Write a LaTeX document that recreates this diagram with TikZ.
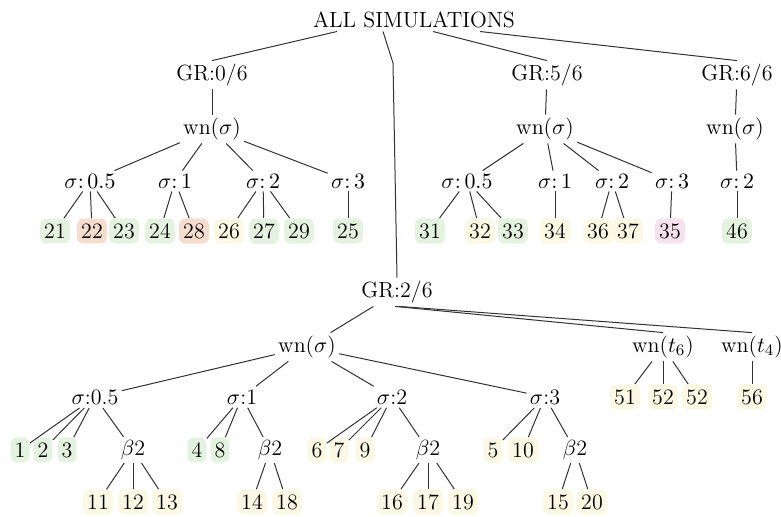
\documentclass[tikz,border=0pt]{standalone}
\usetikzlibrary{calc}
\definecolor{gbg}{RGB}{228,242,224}
\definecolor{obg}{RGB}{245,220,204}
\definecolor{ybg}{RGB}{251,249,228}
\definecolor{pbg}{RGB}{246,226,236}
\definecolor{edgec}{RGB}{50,50,50}
\begin{document}
\begin{tikzpicture}[x=0.5pt,y=-0.5pt,
  font=\fontsize{11}{13}\selectfont,
  lbl/.style={inner sep=1.5pt},
  leaf/.style={inner xsep=2pt, inner ysep=2.5pt, rounded corners=3pt},
  lg/.style={leaf, fill=gbg},
  lo/.style={leaf, fill=obg},
  ly/.style={leaf, fill=ybg},
  lp/.style={leaf, fill=pbg},
  edge/.style={draw=edgec, line width=0.5pt}]
\useasboundingbox (0,0) rectangle (781,516);

% ---------- root ----------
\node[lbl] (all) at (414,20) {ALL SIMULATIONS};
\coordinate (bend) at (393,63);

% ---------- GR:0/6 ----------
\node[lbl] (g0) at (212,75) {GR:0/6};
\node[lbl] (w0) at (212,129) {wn($\sigma$)};
\node[lbl] (a1) at (90,181) {$\sigma\colon 0.5$};
\node[lbl] (a2) at (175,181) {$\sigma\colon 1$};
\node[lbl] (a3) at (263,181) {$\sigma\colon 2$};
\node[lbl] (a4) at (348,181) {$\sigma\colon 3$};
\node[lg] (n21) at (55,231) {21};
\node[lo] (n22) at (92,231) {22};
\node[lg] (n23) at (124,231) {23};
\node[lg] (n24) at (160,231) {24};
\node[lo] (n28) at (194,231) {28};
\node[ly] (n26) at (229,231) {26};
\node[lg] (n27) at (264,231) {27};
\node[lg] (n29) at (299,231) {29};
\node[lg] (n25) at (348,231) {25};

% ---------- GR:5/6 ----------
\node[lbl] (g5) at (547,75) {GR:5/6};
\node[lbl] (w5) at (545,129) {wn($\sigma$)};
\node[lbl] (b1) at (467,181) {$\sigma\colon 0.5$};
\node[lbl] (b2) at (555,181) {$\sigma\colon 1$};
\node[lbl] (b3) at (612,181) {$\sigma\colon 2$};
\node[lbl] (b4) at (672,181) {$\sigma\colon 3$};
\node[lg] (n31) at (430,231) {31};
\node[ly] (n32) at (480,231) {32};
\node[lg] (n33) at (513,231) {33};
\node[ly] (n34) at (555,231) {34};
\node[ly] (n36) at (598,231) {36};
\node[ly] (n37) at (628,231) {37};
\node[lp] (n35) at (670,231) {35};

% ---------- GR:6/6 ----------
\node[lbl] (g6) at (737,75) {GR:6/6};
\node[lbl] (w6) at (735,129) {wn($\sigma$)};
\node[lbl] (c1) at (737,181) {$\sigma\colon 2$};
\node[lg] (n46) at (737,231) {46};

% ---------- GR:2/6 ----------
\node[lbl] (g2) at (397,292) {GR:2/6};
\node[lbl] (w2) at (307,347) {wn($\sigma$)};
\node[lbl] (wt6) at (663,347) {wn($t_6$)};
\node[lbl] (wt4) at (752,347) {wn($t_4$)};
\node[lbl] (d1) at (95,397) {$\sigma$:0.5};
\node[lbl] (d2) at (242,397) {$\sigma$:1};
\node[lbl] (d3) at (392,397) {$\sigma$:2};
\node[lbl] (d4) at (545,397) {$\sigma$:3};
\node[ly] (n51) at (625,397) {51};
\node[ly] (n52) at (663,397) {52};
\node[ly] (n52b) at (697,397) {52};
\node[ly] (n56) at (752,397) {56};

\node[lg] (n1) at (20,450) {1};
\node[lg] (n2) at (43,450) {2};
\node[lg] (n3) at (67,450) {3};
\node[lbl] (e1) at (133,450) {$\beta$2};
\node[lg] (n4) at (197,450) {4};
\node[lg] (n8) at (220,450) {8};
\node[lbl] (e2) at (270,450) {$\beta$2};
\node[ly] (n6) at (317,450) {6};
\node[ly] (n7) at (339,450) {7};
\node[ly] (n9) at (365,450) {9};
\node[lbl] (e3) at (428,450) {$\beta$2};
\node[ly] (n5) at (493,450) {5};
\node[ly] (n10) at (523,450) {10};
\node[lbl] (e4) at (575,450) {$\beta$2};

\node[ly] (n11) at (98,502) {11};
\node[ly] (n12) at (133,502) {12};
\node[ly] (n13) at (167,502) {13};
\node[ly] (n14) at (252,502) {14};
\node[ly] (n18) at (287,502) {18};
\node[ly] (n16) at (392,502) {16};
\node[ly] (n17) at (428,502) {17};
\node[ly] (n19) at (463,502) {19};
\node[ly] (n15) at (558,502) {15};
\node[ly] (n20) at (592,502) {20};

% ---------- edges ----------
\draw[edge] ($(all.south)+(-77,0)$) -- (g0.north);
\draw[edge] ($(all.south)+(-31,0)$) -- (bend) -- (g2.north);
\draw[edge] ($(all.south)+(19,0)$) -- (g5.north);
\draw[edge] ($(all.south)+(66,0)$) -- (g6.north);

\draw[edge] (g0) -- (w0);
\foreach \c in {a1,a2,a3,a4} \draw[edge] (w0) -- (\c);
\foreach \c in {n21,n22,n23} \draw[edge] (a1) -- (\c);
\foreach \c in {n24,n28} \draw[edge] (a2) -- (\c);
\foreach \c in {n26,n27,n29} \draw[edge] (a3) -- (\c);
\draw[edge] (a4) -- (n25);

\draw[edge] (g5) -- (w5);
\foreach \c in {b1,b2,b3,b4} \draw[edge] (w5) -- (\c);
\foreach \c in {n31,n32,n33} \draw[edge] (b1) -- (\c);
\draw[edge] (b2) -- (n34);
\foreach \c in {n36,n37} \draw[edge] (b3) -- (\c);
\draw[edge] (b4) -- (n35);

\draw[edge] (g6) -- (w6);
\draw[edge] (w6) -- (c1);
\draw[edge] (c1) -- (n46);

\draw[edge] (g2) -- (w2);
\draw[edge] ($(g2.south)+(-2,0)$) -- (wt6.north);
\draw[edge] ($(g2.south)+(2,0)$) -- (wt4.north);
\foreach \c in {d1,d2,d3,d4} \draw[edge] (w2) -- (\c);
\foreach \c in {n51,n52,n52b} \draw[edge] (wt6) -- (\c);
\draw[edge] (wt4) -- (n56);

\foreach \c in {n1,n2,n3,e1} \draw[edge] (d1) -- (\c);
\foreach \c in {n4,n8,e2} \draw[edge] (d2) -- (\c);
\foreach \c in {n6,n7,n9,e3} \draw[edge] (d3) -- (\c);
\foreach \c in {n5,n10,e4} \draw[edge] (d4) -- (\c);
\foreach \c in {n11,n12,n13} \draw[edge] (e1) -- (\c);
\foreach \c in {n14,n18} \draw[edge] (e2) -- (\c);
\foreach \c in {n16,n17,n19} \draw[edge] (e3) -- (\c);
\foreach \c in {n15,n20} \draw[edge] (e4) -- (\c);
\end{tikzpicture}
\end{document}
